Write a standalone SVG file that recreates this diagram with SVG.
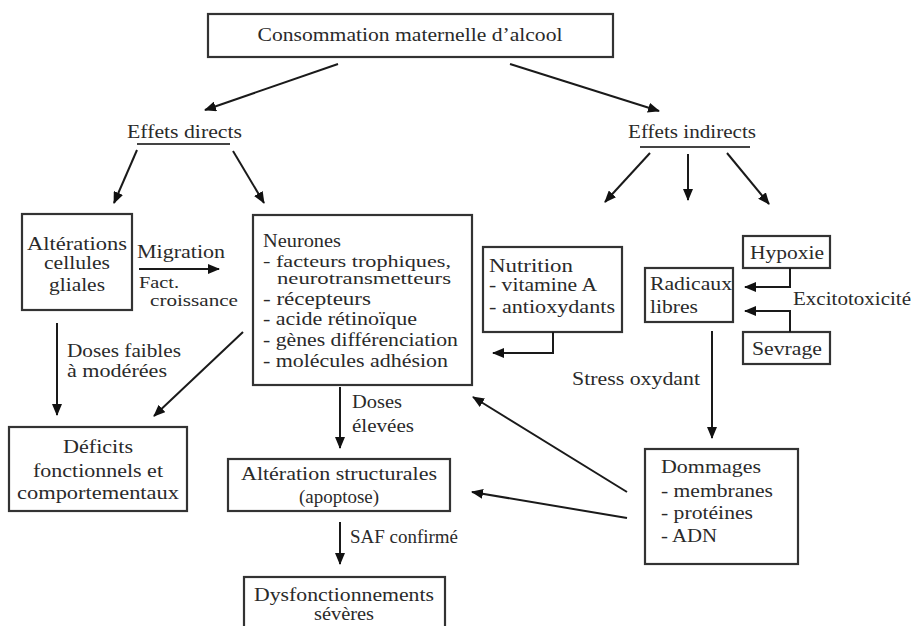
<svg xmlns="http://www.w3.org/2000/svg" width="913" height="626" viewBox="0 0 913 626" font-family="Times New Roman, Liberation Serif, Times, serif" font-size="18">
<defs>
<marker id="ah" viewBox="0 0 12 10" refX="11" refY="5" markerWidth="12" markerHeight="10" markerUnits="userSpaceOnUse" orient="auto">
<path d="M0,0 L12,5 L0,10 Z" fill="#111"/>
</marker>
<style>
.box{fill:#fff;stroke:#333;stroke-width:2.2}
.c{fill:none;stroke:#1a1a1a;stroke-width:2;marker-end:url(#ah)}
.u{stroke:#444;stroke-width:2}
text{fill:#2a2a2a}
.m{text-anchor:middle}
.s{font-size:16px}
</style>
</defs>
<rect width="913" height="626" fill="#fff"/>

<g id="top">
<rect class="box" x="208" y="14" width="405" height="43"/>
<text class="m" x="410" y="41" textLength="305" lengthAdjust="spacingAndGlyphs">Consommation maternelle d’alcool</text>
</g>

<g id="directs">
<text x="127" y="138" textLength="115" lengthAdjust="spacingAndGlyphs">Effets directs</text>
<line class="u" x1="137" y1="144" x2="230" y2="144"/>
</g>

<g id="indirects">
<text x="628" y="138" textLength="128" lengthAdjust="spacingAndGlyphs">Effets indirects</text>
<line class="u" x1="640" y1="147" x2="750" y2="147"/>
</g>

<g id="gliales">
<rect class="box" x="22" y="214" width="110" height="96"/>
<text class="m" x="77" y="250" textLength="100" lengthAdjust="spacingAndGlyphs">Altérations</text>
<text class="m" x="77" y="269" textLength="66" lengthAdjust="spacingAndGlyphs">cellules</text>
<text class="m" x="77" y="291" textLength="56" lengthAdjust="spacingAndGlyphs">gliales</text>
</g>

<g id="neurones">
<rect class="box" x="253" y="215" width="219" height="170"/>
<text x="263" y="247" textLength="78" lengthAdjust="spacingAndGlyphs">Neurones</text>
<text class="s" x="263" y="267" textLength="188" lengthAdjust="spacingAndGlyphs">- facteurs trophiques,</text>
<text class="s" x="277" y="284" textLength="174" lengthAdjust="spacingAndGlyphs">neurotransmetteurs</text>
<text x="263" y="305" textLength="108" lengthAdjust="spacingAndGlyphs">-  récepteurs</text>
<text x="263" y="325" textLength="154" lengthAdjust="spacingAndGlyphs">- acide  rétinoïque</text>
<text x="263" y="346" textLength="195" lengthAdjust="spacingAndGlyphs">- gènes différenciation</text>
<text x="263" y="367" textLength="185" lengthAdjust="spacingAndGlyphs">- molécules adhésion</text>
</g>

<g id="nutrition">
<rect class="box" x="483" y="247" width="139" height="85"/>
<text x="489" y="272" textLength="84" lengthAdjust="spacingAndGlyphs">Nutrition</text>
<text x="489" y="291" textLength="108" lengthAdjust="spacingAndGlyphs">- vitamine A</text>
<text x="489" y="313" textLength="126" lengthAdjust="spacingAndGlyphs">- antioxydants</text>
</g>

<g id="radicaux">
<rect class="box" x="645" y="268" width="88" height="54"/>
<text x="650" y="290" textLength="82" lengthAdjust="spacingAndGlyphs">Radicaux</text>
<text x="650" y="313" textLength="48" lengthAdjust="spacingAndGlyphs">libres</text>
</g>

<g id="hypoxie">
<rect class="box" x="743" y="236" width="87" height="32"/>
<text class="m" x="787" y="259" textLength="74" lengthAdjust="spacingAndGlyphs">Hypoxie</text>
</g>

<g id="sevrage">
<rect class="box" x="743" y="332" width="87" height="32"/>
<text class="m" x="787" y="355" textLength="70" lengthAdjust="spacingAndGlyphs">Sevrage</text>
</g>

<g id="dommages">
<rect class="box" x="645" y="449" width="153" height="115"/>
<text x="661" y="473" textLength="100" lengthAdjust="spacingAndGlyphs">Dommages</text>
<text x="661" y="497" textLength="112" lengthAdjust="spacingAndGlyphs">- membranes</text>
<text x="661" y="519" textLength="92" lengthAdjust="spacingAndGlyphs">- protéines</text>
<text x="661" y="542" textLength="56" lengthAdjust="spacingAndGlyphs">- ADN</text>
</g>

<g id="deficits">
<rect class="box" x="9" y="427" width="178" height="84"/>
<text class="m" x="98" y="453" textLength="70" lengthAdjust="spacingAndGlyphs">Déficits</text>
<text class="m" x="98" y="477" textLength="130" lengthAdjust="spacingAndGlyphs">fonctionnels et</text>
<text class="m" x="98" y="499" textLength="162" lengthAdjust="spacingAndGlyphs">comportementaux</text>
</g>

<g id="apoptose">
<rect class="box" x="228" y="459" width="222" height="52"/>
<text class="m" x="339" y="480" textLength="196" lengthAdjust="spacingAndGlyphs">Altération structurales</text>
<text class="m" x="339" y="503" textLength="80" lengthAdjust="spacingAndGlyphs">(apoptose)</text>
</g>

<g id="dysfonctionnements">
<rect class="box" x="244" y="577" width="201" height="52"/>
<text class="m" x="344" y="601" textLength="180" lengthAdjust="spacingAndGlyphs">Dysfonctionnements</text>
<text class="m" x="344" y="620" textLength="60" lengthAdjust="spacingAndGlyphs">sévères</text>
</g>

<g id="connectors">
<line class="c" x1="338" y1="64" x2="205" y2="110"/>
<line class="c" x1="510" y1="64" x2="659" y2="111"/>
<line class="c" x1="137" y1="150" x2="114" y2="203"/>
<line class="c" x1="233" y1="151" x2="264" y2="203"/>
<line class="c" x1="650" y1="153" x2="605" y2="202"/>
<line class="c" x1="688" y1="154" x2="688" y2="200"/>
<line class="c" x1="727" y1="153" x2="769" y2="204"/>
<line class="c" x1="139" y1="269" x2="219" y2="269"/>
<polyline class="c" points="553,332 553,353 493,353"/>
<polyline class="c" points="790,268 790,287 745,287"/>
<polyline class="c" points="790,332 790,311 745,311"/>
<line class="c" x1="712" y1="331" x2="712" y2="438"/>
<line class="c" x1="57" y1="323" x2="57" y2="415"/>
<line class="c" x1="243" y1="332" x2="154" y2="416"/>
<line class="c" x1="340" y1="387" x2="340" y2="448"/>
<line class="c" x1="340" y1="522" x2="340" y2="564"/>
<line class="c" x1="627" y1="492" x2="473" y2="397"/>
<line class="c" x1="627" y1="518" x2="472" y2="492"/>
</g>

<g id="labels">
<text x="137" y="258" textLength="88" lengthAdjust="spacingAndGlyphs">Migration</text>
<text class="s" x="139" y="288" textLength="40" lengthAdjust="spacingAndGlyphs">Fact.</text>
<text class="s" x="150" y="306" textLength="88" lengthAdjust="spacingAndGlyphs">croissance</text>
<text x="67" y="357" textLength="114" lengthAdjust="spacingAndGlyphs">Doses faibles</text>
<text x="67" y="377" textLength="100" lengthAdjust="spacingAndGlyphs">à modérées</text>
<text x="352" y="408" textLength="50" lengthAdjust="spacingAndGlyphs">Doses</text>
<text x="352" y="432" textLength="62" lengthAdjust="spacingAndGlyphs">élevées</text>
<text x="350" y="543" textLength="108" lengthAdjust="spacingAndGlyphs">SAF confirmé</text>
<text x="572" y="385" textLength="128" lengthAdjust="spacingAndGlyphs">Stress oxydant</text>
<text x="793" y="305" textLength="118" lengthAdjust="spacingAndGlyphs">Excitotoxicité</text>
</g>
</svg>
